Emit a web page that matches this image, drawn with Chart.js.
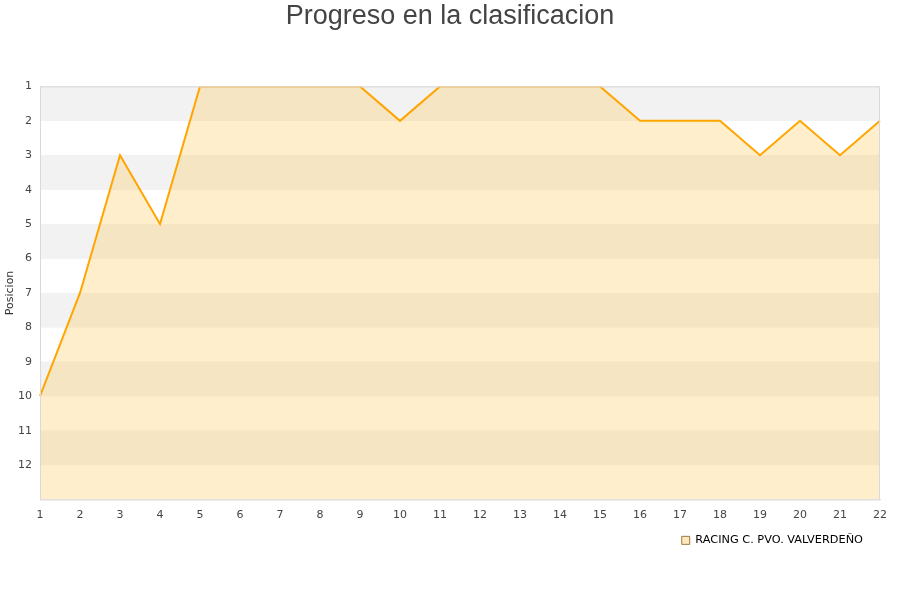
<!DOCTYPE html>
<html>
<head>
<meta charset="utf-8">
<script src="https://cdn.jsdelivr.net/npm/chart.js@4/dist/chart.umd.min.js"></script>
<style>
  body { margin: 0; background: #fff; }
  #wrap { width: 900px; height: 600px; }
</style>
</head>
<body>
<div id="wrap"><canvas id="chart"></canvas></div>
<script>
// jornadas y posiciones
const jornadas = ['1','2','3','4','5','6','7','8','9','10','11','12','13','14','15','16','17','18','19','20','21','22']
const posiciones = [10, 7, 3, 5, 1, 1, 1, 1, 1, 2, 1, 1, 1, 1, 1, 2, 2, 2, 3, 2, 3, 2]
const equipo = 'RACING C. PVO. VALVERDEÑO'
const posMin = 1
const posMax = 13

// alternating bands behind the data + frame
const bands = {
  id: 'bands',
  afterLayout(chart) {
    // nudge the legend in from the right and down a little
    const lg = chart.legend
    if (lg) {
      lg.right -= 30
      lg.top += 5
      lg.bottom += 5
    }
  },
  beforeDatasetsDraw(chart) {
    const { ctx, chartArea, scales } = chart
    const y = scales.y
    ctx.save()
    for (let v = posMin; v < posMax; v++) {
      const a = y.getPixelForValue(v)
      const b = y.getPixelForValue(v + 1)
      ctx.fillStyle = (v % 2 === 1) ? '#f2f2f2' : '#ffffff'
      ctx.fillRect(chartArea.left, a, chartArea.right - chartArea.left, b - a)
    }
    ctx.restore()
  },
  afterDraw(chart) {
    const { ctx, chartArea } = chart
    ctx.save()
    ctx.strokeStyle = '#d9d9d9'
    ctx.lineWidth = 1
    ctx.strokeRect(chartArea.left + 0.5, chartArea.top + 0.5, chartArea.right - chartArea.left - 1, chartArea.bottom - chartArea.top)
    ctx.restore()
  }
}

const data = {
  labels: jornadas,
  datasets: [{
    label: equipo,
    data: posiciones,
    borderColor: '#ffa500',
    backgroundColor: 'rgba(255, 205, 110, 0.35)',
    borderWidth: 2,
    pointRadius: 0,
    tension: 0,
    fill: 'start'
  }]
}

const config = {
  type: 'line',
  data: data,
  plugins: [bands],
  options: {
    responsive: false,
    animation: false,
    layout: { padding: { top: 0, right: 0, bottom: 49, left: 0 } },
    plugins: {
      title: {
        display: true,
        text: 'Progreso en la clasificacion',
        color: '#444',
        font: { family: 'Liberation Sans', size: 27, weight: 'normal' },
        padding: { top: 0, bottom: 54 }
      },
      legend: {
        position: 'bottom',
        align: 'end',
        labels: {
          boxWidth: 8,
          boxHeight: 8,
          color: '#111',
          font: { family: 'DejaVu Sans', size: 11.3 },
          padding: 7,
          generateLabels(chart) {
            return [{
              text: equipo,
              fillStyle: 'rgba(255, 205, 110, 0.45)',
              strokeStyle: '#a07840',
              lineWidth: 1,
              datasetIndex: 0
            }]
          }
        }
      },
      tooltip: { enabled: false }
    },
    scales: {
      x: {
        offset: false,
        afterFit(axis) { axis.paddingRight = 20 },
        grid: { display: false },
        border: { color: '#d9d9d9' },
        ticks: { color: '#444', font: { family: 'DejaVu Sans', size: 11 }, maxRotation: 0, autoSkip: false, padding: 1 }
      },
      y: {
        reverse: true,
        min: posMin,
        max: posMax,
        afterFit(axis) { axis.width = 40 },
        grid: { color: '#e0e0e0', drawTicks: false },
        border: { color: '#d9d9d9' },
        title: { display: true, text: 'Posicion', color: '#333', font: { family: 'DejaVu Sans', size: 11 }, padding: { top: 4, bottom: 0 } },
        ticks: {
          stepSize: 1,
          color: '#444',
          font: { family: 'DejaVu Sans', size: 11 },
          padding: 8,
          callback: v => (v >= posMax ? '' : v)
        }
      }
    }
  }
}

const c = document.getElementById('chart')
c.width = 900
c.height = 600
new Chart(c, config)
</script>
</body>
</html>
